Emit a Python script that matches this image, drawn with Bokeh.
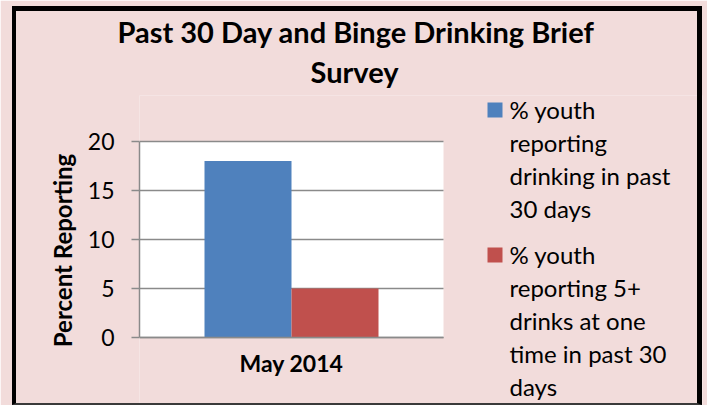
from bokeh.plotting import figure
from bokeh.models import (Range1d, FixedTicker, Title, InlineStyleSheet, Grid)
from bokeh.core.properties import value
from bokeh.embed import file_html
from bokeh.resources import INLINE

# ---- data ----
categories = ["May 2014"]
drinking_past_30 = [18]
binge_past_30 = [5]
y_ticks = [0, 5, 10, 15, 20]
title_lines = ["Past 30 Day and Binge Drinking Brief", "Survey"]
y_label = "Percent Reporting"
series_label_lines = [
    ["% youth", "reporting", "drinking in past", "30 days"],
    ["% youth", "reporting 5+", "drinks at one", "time in past 30", "days"],
]
colors = ["#4F81BD", "#C0504D"]

# ---- layout (px) ----
W, H = 707, 405
PL, PT, PW, PH = 139, 141, 304, 196          # plot area (white)
FT, FR, FB = 95, 702, 405                     # frame extends to hold the legend
FONT = "Lato"
y_max = max(y_ticks)
px_per_y = PH / y_max
px_per_x = PW / len(categories)

x_end = (FR - PL) / px_per_x
y_start = -(FB - (PT + PH)) / px_per_y
y_end = ((PT + PH) - FT) / px_per_y

p = figure(width=W, height=H, x_range=Range1d(0, x_end), y_range=Range1d(y_start, y_end),
           output_backend="svg", toolbar_location=None, title=None,
           min_border_left=PL, min_border_top=FT,
           min_border_right=W - FR, min_border_bottom=H - FB)

pink = "#F2DCDB"
p.background_fill_color = pink
p.border_fill_color = pink
p.outline_line_color = None
css = """
:host { position: relative; }
:host::after {
  content: ""; position: absolute; left: 12px; top: 6px; right: 5px; bottom: 0px;
  border-style: solid; border-color: #000 #000 #3a3a3a #000;
  border-width: 5px 5px 2px 4px; box-sizing: border-box;
  pointer-events: none; z-index: 10;
}
"""
p.stylesheets = [InlineStyleSheet(css=css)]

# white plot area spanning the categories and the value axis
p.quad(left=[0], right=[len(categories)], bottom=[0], top=[y_max],
       fill_color="white", line_color=None, level="image")

# bars
cat_x = [i + 0.5 for i in range(len(categories))]
bar_w = 87 / px_per_x
p.vbar(x=[c - bar_w / 2 for c in cat_x], top=drinking_past_30, width=bar_w,
       fill_color=colors[0], line_color=None)
p.vbar(x=[c + bar_w / 2 for c in cat_x], top=binge_past_30, width=bar_w,
       fill_color=colors[1], line_color=None)

# title: two centred lines (closest to the frame first)
title_left = [117, 310]
for text, left, stand in [(title_lines[1], title_left[1], 13), (title_lines[0], title_left[0], -7)]:
    t = Title(text=text, align="left", offset=left - PL, text_font=FONT,
              text_font_style="bold", text_font_size="29px", text_color="black",
              standoff=stand)
    p.add_layout(t, "above")

# axes and grid
grid_col = "#8A8A8A"
p.xgrid.visible = False
p.ygrid.ticker = FixedTicker(ticks=y_ticks)
p.ygrid.grid_line_color = grid_col
p.ygrid.grid_line_width = 1.5
if "cross_bounds" in Grid.properties():
    p.ygrid.cross_bounds = (0, len(categories))

p.yaxis.ticker = FixedTicker(ticks=y_ticks)
p.yaxis.bounds = (0, y_max)
p.yaxis.axis_line_color = grid_col
p.yaxis.axis_line_width = 1.5
p.yaxis.major_tick_line_color = grid_col
p.yaxis.major_tick_line_width = 1.5
p.yaxis.major_tick_out = 8
p.yaxis.major_tick_in = 0
p.yaxis.minor_tick_line_color = None
p.yaxis.major_label_standoff = 17
p.yaxis.major_label_text_font = FONT
p.yaxis.major_label_text_font_size = "23px"
p.yaxis.major_label_text_color = "black"
p.yaxis.axis_label = y_label
p.yaxis.axis_label_text_font = FONT
p.yaxis.axis_label_text_font_style = "bold"
p.yaxis.axis_label_text_font_size = "24px"
p.yaxis.axis_label_text_color = "black"
p.yaxis.axis_label_standoff = 8

p.xaxis.fixed_location = 0
p.xaxis.bounds = (0, len(categories))
p.xaxis.ticker = FixedTicker(ticks=cat_x)
p.xaxis.major_label_overrides = {c: name for c, name in zip(cat_x, categories)}
p.xaxis.axis_line_color = grid_col
p.xaxis.axis_line_width = 1.5
p.xaxis.major_tick_line_color = None
p.xaxis.minor_tick_line_color = None
p.xaxis.major_label_standoff = 5
p.xaxis.major_label_text_font = FONT
p.xaxis.major_label_text_font_style = "bold"
p.xaxis.major_label_text_font_size = "23px"
p.xaxis.major_label_text_color = "black"

# legend drawn inside the (extended) frame
def xd(sx):
    return (sx - PL) / px_per_x

def yd(sy):
    return ((PT + PH) - sy) / px_per_y

group_first_baseline = [118, 263]
line_pitch = 33
baseline_fix = 9          # compensates the renderer's placement of alphabetic text
sq_left, sq_size, txt_left = 487, 15, 509
lx, ly, lt = [], [], []
for g, lines in enumerate(series_label_lines):
    base = group_first_baseline[g]
    p.quad(left=[xd(sq_left)], right=[xd(sq_left + sq_size)],
           bottom=[yd(base - 1)], top=[yd(base - 1 - sq_size)],
           fill_color=colors[g], line_color=None)
    for i, line in enumerate(lines):
        lx.append(xd(txt_left))
        ly.append(yd(base + i * line_pitch - baseline_fix))
        lt.append(line)
p.text(x=lx, y=ly, text=lt, text_font=value(FONT), text_font_size="24px",
       text_color="black", text_baseline="alphabetic", text_align="left")

open("out.html", "w").write(file_html(p, INLINE))
